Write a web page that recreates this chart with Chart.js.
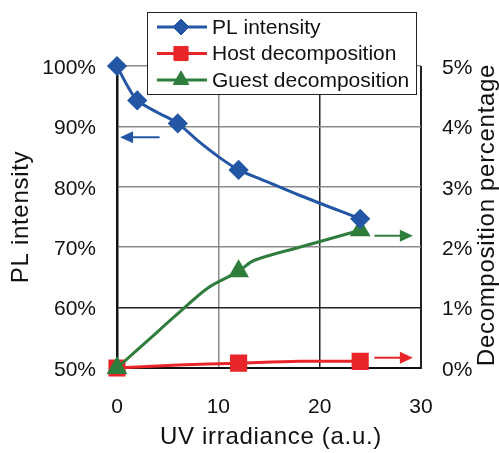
<!DOCTYPE html>
<html>
<head>
<meta charset="utf-8">
<script src="https://cdn.jsdelivr.net/npm/chart.js@4"></script>
<style>
  html, body { margin: 0; padding: 0; background: #fff; }
  #wrap { width: 499px; height: 453px; }
</style>
</head>
<body>
<div id="wrap"><canvas id="c"></canvas></div>
<script>
// PL intensity (left axis, %)
const plX = [0, 1, 2, 4, 6, 8, 10, 12, 14, 18, 24];
const plY = [100, 96.8, 94.3, 92.3, 90.5, 87.6, 85, 82.8, 81.4, 78.6, 74.7];
const plMarked = [0, 2, 6, 12, 24];

// Host decomposition (right axis, %)
const hostX = [0, 6, 12, 18, 24];
const hostY = [0, 0.05, 0.08, 0.11, 0.11];
const hostMarked = [0, 12, 24];

// Guest decomposition (right axis, %)
const guestX = [0, 3, 6, 9, 12, 13.5, 18, 24];
const guestY = [0, 0.45, 0.9, 1.33, 1.6, 1.78, 2.0, 2.28];
const guestMarked = [0, 12, 24];

const xTitle = 'UV irradiance (a.u.)';
const yTitle = 'PL intensity';
const y2Title = 'Decomposition percentage';

// arrows pointing to the axis each curve belongs to
const arrows = [
  { axis: 'y',  from: 4.2,  to: 0.3,  at: 88.2, color: '#2456a6' },
  { axis: 'y2', from: 25.4, to: 29.2, at: 2.19, color: '#2f7d3c' },
  { axis: 'y2', from: 25.4, to: 29.2, at: 0.17, color: '#e8262a' }
];

const FONT = '"Liberation Sans", Arial, sans-serif';
const BLUE = '#2456a6', RED = '#e8262a', GREEN = '#2f7d3c';

function pts(xs, ys) { return xs.map((x, i) => ({ x: x, y: ys[i] })); }
function radiusFor(marked, r) {
  return ctx => marked.includes(ctx.raw.x) ? r : 0;
}

const legendItems = [
  { text: 'PL intensity', color: BLUE, style: 'rectRot', r: 8 },
  { text: 'Host decomposition', color: RED, style: 'rect', r: 10 },
  { text: 'Guest decomposition', color: GREEN, style: 'triangle', r: 9 }
];

function spacedText(c, text, x, y, rot) {
  c.save();
  c.translate(x, y);
  c.rotate(rot);
  c.font = '24px ' + FONT;
  c.letterSpacing = '0.7px';
  c.fillStyle = '#111';
  c.textAlign = 'center';
  c.textBaseline = 'middle';
  c.fillText(text, 0, 0);
  c.restore();
}

const extras = {
  id: 'extras',
  afterDraw(chart) {
    const c = chart.ctx;
    const xs = chart.scales.x;
    const area = chart.chartArea;
    // arrows
    arrows.forEach(a => {
      const ys = chart.scales[a.axis];
      const x1 = xs.getPixelForValue(a.from), x2 = xs.getPixelForValue(a.to);
      const y = ys.getPixelForValue(a.at);
      const dir = x2 > x1 ? 1 : -1;
      c.save();
      c.strokeStyle = a.color; c.fillStyle = a.color; c.lineWidth = 2;
      c.beginPath(); c.moveTo(x1, y); c.lineTo(x2 - dir * 10, y); c.stroke();
      c.beginPath(); c.moveTo(x2, y); c.lineTo(x2 - dir * 13, y - 6); c.lineTo(x2 - dir * 13, y + 6); c.closePath(); c.fill();
      c.restore();
    });
    // axis titles
    const midY = (area.top + area.bottom) / 2;
    spacedText(c, xTitle, (area.left + area.right) / 2 + 2, 437, 0);
    spacedText(c, yTitle, 21, midY, -Math.PI / 2);
    spacedText(c, y2Title, 487, midY - 2, -Math.PI / 2);
    // legend box
    const lx = 147, ly = 12, lw = 269, lh = 82;
    c.save();
    c.fillStyle = '#fff'; c.fillRect(lx, ly, lw, lh);
    c.strokeStyle = '#222'; c.lineWidth = 1; c.strokeRect(lx + 0.5, ly + 0.5, lw, lh);
    c.font = '21px ' + FONT; c.textBaseline = 'middle';
    legendItems.forEach((it, i) => {
      const y = ly + 15 + i * 26.5;
      c.strokeStyle = it.color; c.lineWidth = 3;
      c.beginPath(); c.moveTo(lx + 10, y); c.lineTo(lx + 60, y); c.stroke();
      c.fillStyle = it.color; c.lineWidth = 1;
      Chart.helpers.drawPoint(c, { pointStyle: it.style, radius: it.r, borderWidth: 1 }, lx + 34, y);
      c.fillStyle = '#111';
      c.fillText(it.text, lx + 65, y + 1);
    });
    c.restore();
  }
};

const tickFont = { family: FONT, size: 21 };

new Chart(document.getElementById('c'), {
  type: 'line',
  data: {
    datasets: [
      {
        label: 'PL intensity', data: pts(plX, plY), yAxisID: 'y', order: 1,
        borderColor: BLUE, backgroundColor: BLUE, borderWidth: 3, clip: false,
        pointStyle: 'rectRot', pointRadius: radiusFor(plMarked, 8), tension: 0.3
      },
      {
        label: 'Host decomposition', data: pts(hostX, hostY), yAxisID: 'y2', order: 3,
        borderColor: RED, backgroundColor: RED, borderWidth: 3, clip: false,
        pointStyle: 'rect', pointRadius: radiusFor(hostMarked, 10), tension: 0.3
      },
      {
        label: 'Guest decomposition', data: pts(guestX, guestY), yAxisID: 'y2', order: 2,
        borderColor: GREEN, backgroundColor: GREEN, borderWidth: 3, clip: false,
        pointStyle: 'triangle', pointRadius: radiusFor(guestMarked, 9), tension: 0.3
      }
    ]
  },
  options: {
    responsive: true,
    maintainAspectRatio: false,
    animation: false,
    layout: { padding: { top: 66, left: 0, right: 0, bottom: 0 } },
    plugins: { legend: { display: false }, tooltip: { enabled: false } },
    scales: {
      x: {
        type: 'linear', min: 0, max: 30,
        afterFit: s => { s.height = 85; },
        ticks: { stepSize: 10, padding: 27, color: '#111', font: tickFont },
        grid: {
          tickLength: 0, lineWidth: 1.5,
          color: ctx => ctx.tick.value === 0 ? 'rgba(0,0,0,0)' : (ctx.tick.value === 10 ? '#8a8a8a' : '#222')
        },
        border: { color: '#111', width: 2 }
      },
      y: {
        position: 'left', min: 50, max: 100,
        afterFit: s => { s.width = 117; },
        ticks: { stepSize: 10, padding: 21, labelOffset: 2, color: '#111', font: tickFont, callback: v => v + '%' },
        grid: {
          tickLength: 0, lineWidth: 1.5,
          color: ctx => ctx.tick.value === 50 ? 'rgba(0,0,0,0)' : (ctx.tick.value === 60 ? '#222' : '#8a8a8a')
        },
        border: { color: '#111', width: 2.5 }
      },
      y2: {
        position: 'right', min: 0, max: 5,
        afterFit: s => { s.width = 78; },
        ticks: { stepSize: 1, padding: 21, labelOffset: 2, color: '#111', font: tickFont, callback: v => v + '%' },
        grid: { display: false, drawOnChartArea: false, tickLength: 0 },
        border: { color: '#222', width: 1 }
      }
    }
  },
  plugins: [extras]
});
</script>
</body>
</html>
